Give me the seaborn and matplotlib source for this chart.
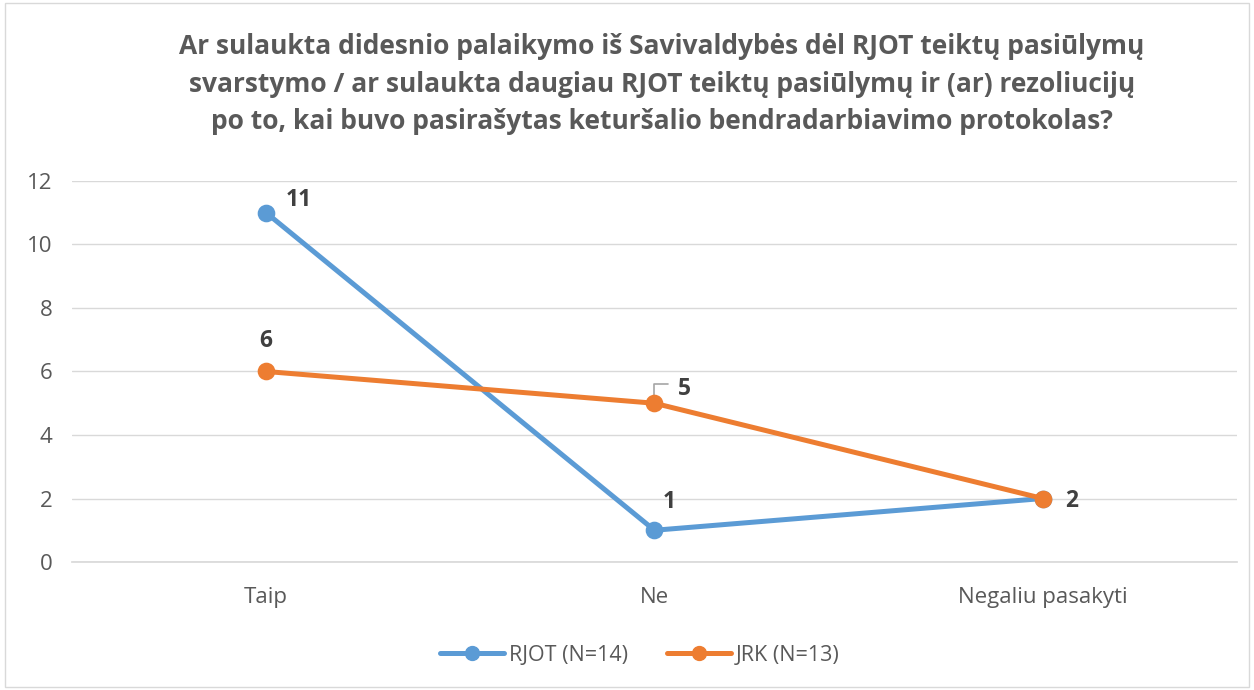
import pandas as pd
import matplotlib.pyplot as plt
import seaborn as sns

# Duomenys
kategorijos = ["Taip", "Ne", "Negaliu pasakyti"]
rjot = [11, 1, 2]
jrk = [6, 5, 2]
serijos = ["RJOT (N=14)", "JRK (N=13)"]
spalvos = ["#5B9BD5", "#ED7D31"]

df = pd.DataFrame({
    "kategorija": kategorijos * 2,
    "reiksme": rjot + jrk,
    "grupe": [serijos[0]] * 3 + [serijos[1]] * 3,
})

sns.set_theme(style="white")
plt.rcParams["font.family"] = ["Open Sans", "DejaVu Sans"]

fig = plt.figure(figsize=(12.54, 6.9), dpi=100)
ax = fig.add_axes([0.0574, 0.1855, 0.929, 0.5522])

sns.pointplot(data=df, x="kategorija", y="reiksme", hue="grupe",
              order=kategorijos, hue_order=serijos, palette=spalvos,
              markers="o", linestyles="-", linewidth=3.6, markersize=10,
              ax=ax, legend=False)

ax.set_ylim(0, 12)
ax.set_xlim(-0.5, 2.5)
ax.set_yticks(range(0, 13, 2))
ax.grid(axis="y", color="#D9D9D9", linewidth=1)
ax.set_axisbelow(True)
for s in ax.spines.values():
    s.set_visible(False)
ax.spines["bottom"].set_visible(True)
ax.spines["bottom"].set_color("#D9D9D9")
ax.tick_params(axis="both", length=0, labelsize=16, colors="#595959")
ax.tick_params(axis="y", pad=14)
ax.tick_params(axis="x", pad=18)
ax.set_xlabel("")
ax.set_ylabel("")

# Duomenų žymės
lbl = dict(fontsize=16.5, fontweight="bold", color="#404040", textcoords="offset pixels",
           ha="center", va="center")
ax.annotate(str(rjot[0]), (0, rjot[0]), xytext=(33, 13), **lbl)
ax.annotate(str(jrk[0]), (0, jrk[0]), xytext=(0, 30), **lbl)
ax.annotate(str(rjot[1]), (1, rjot[1]), xytext=(15, 28), **lbl)
ax.annotate(str(jrk[1]), (1, jrk[1]), xytext=(30, 14), **lbl)
ax.plot([1.0, 1.0, 1.035], [5.15, 5.6, 5.6], color="#A6A6A6", linewidth=1.2, zorder=1)
ax.annotate(str(jrk[2]), (2, jrk[2]), xytext=(29, -2), **lbl)

fig.suptitle("Ar sulaukta didesnio palaikymo iš Savivaldybės dėl RJOT teiktų pasiūlymų\n"
             "svarstymo / ar sulaukta daugiau RJOT teiktų pasiūlymų ir (ar) rezoliucijų\n"
             "po to, kai buvo pasirašytas keturšalio bendradarbiavimo protokolas?",
             x=0.528, y=0.952, fontsize=19, fontweight="bold", color="#595959", linespacing=1.5)

# Legenda
rankos = [plt.Line2D([], [], color=c, linewidth=3.6, marker="o", markersize=10) for c in spalvos]
fig.legend(rankos, serijos, loc="center", bbox_to_anchor=(0.51, 0.05), ncol=2, frameon=False,
           fontsize=15.5, labelcolor="#595959", handlelength=3.0, columnspacing=1.8, handletextpad=0.2)

fig.patches.append(plt.Rectangle((0.004, 0.004), 0.992, 0.992, transform=fig.transFigure,
                                 fill=False, edgecolor="#D9D9D9", linewidth=1))

plt.savefig("out.png", dpi=100)
